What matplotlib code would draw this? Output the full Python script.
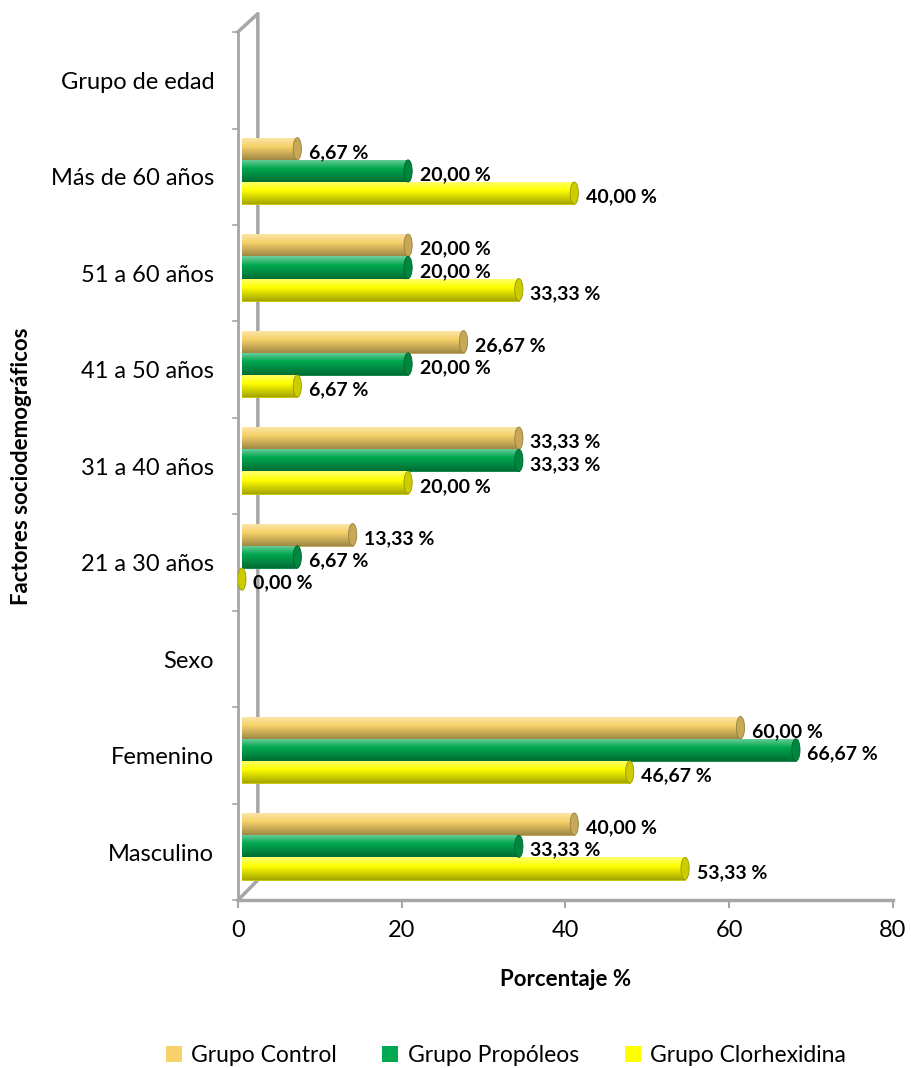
import numpy as np
import matplotlib
matplotlib.use("Agg")
import matplotlib.pyplot as plt
from matplotlib.patches import Ellipse, Patch
import matplotlib.colors as mcolors

categories = ["Grupo de edad", "Más de 60 años", "51 a 60 años", "41 a 50 años",
              "31 a 40 años", "21 a 30 años", "Sexo", "Femenino", "Masculino"]
control = [None, 6.67, 20.00, 26.67, 33.33, 13.33, None, 60.00, 40.00]
propoleos = [None, 20.00, 20.00, 20.00, 33.33, 6.67, None, 66.67, 33.33]
clorhexidina = [None, 40.00, 33.33, 6.67, 20.00, 0.00, None, 46.67, 53.33]
series_names = ["Grupo Control", "Grupo Propóleos", "Grupo Clorhexidina"]
colors = ["#F7D26A", "#00A84F", "#FFFF00"]
xticks = [0, 20, 40, 60, 80]

plt.rcParams['font.family'] = ['Lato', 'DejaVu Sans']
gray = "#A6A6A6"

fig = plt.figure(figsize=(9.11, 10.68), dpi=100)
ax = fig.add_axes([0.261, 0.157, 0.719, 0.813])

n = len(categories)
ypos = np.arange(n)
h = 0.23
offsets = [-h - 0.06, -0.06, h - 0.06]
x0 = 0.5  # 3d depth offset of bar bases


def shade(c, f):
    r, g, b = mcolors.to_rgb(c)
    if f >= 0:
        return (r + (1 - r) * f, g + (1 - g) * f, b + (1 - b) * f)
    return (r * (1 + f), g * (1 + f), b * (1 + f))


for vals, col, off in zip([control, propoleos, clorhexidina], colors, offsets):
    for i, v in enumerate(vals):
        if v is None:
            continue
        y = ypos[i] + off
        w = v * 1.015
        bars = ax.barh(y, w, height=h, left=x0, color=col, edgecolor=shade(col, -0.25), linewidth=0.6, zorder=3)
        # cylinder shading
        grad = np.linspace(0, 1, 50)
        prof = np.array([shade(col, 0.45 * (1 - t * 2.5)) if t < 0.4 else shade(col, -0.35 * (t - 0.4) / 0.6) for t in grad])
        img = ax.imshow(prof[:, None, :], extent=[x0, x0 + max(w, 0.01), y + h / 2, y - h / 2],
                        aspect='auto', zorder=3.5, interpolation='bilinear')
        img.set_clip_path(bars[0])
        ax.add_patch(Ellipse((x0 + w, y), 1.0, h, facecolor=shade(col, -0.2),
                             edgecolor=shade(col, -0.4), linewidth=0.6, zorder=4))
        ax.text(x0 + w + 1.4, y + 0.04, f"{v:.2f} %".replace(".", ","), va='center', ha='left',
                fontsize=14, fontweight='bold', color='black', zorder=5)

ax.set_xlim(0, 80)
ax.set_ylim(n - 0.5, -0.5)
ax.set_xticks(xticks)
ax.set_yticks(ypos)
ax.set_yticklabels(categories, fontsize=17)
ax.tick_params(axis='x', labelsize=17, length=6, color=gray, width=1.5, pad=8)
ax.tick_params(axis='y', length=0, pad=17)
for b in np.arange(n + 1) - 0.5:
    ax.plot([-0.6, 0], [b, b], color=gray, lw=1.2, clip_on=False, zorder=1)

for s in ['top', 'right']:
    ax.spines[s].set_visible(False)
ax.spines['left'].set_color(gray)
ax.spines['left'].set_linewidth(2)
ax.spines['bottom'].set_color(gray)
ax.spines['bottom'].set_linewidth(2.5)

# back wall (3d look)
ax.plot([0, 2.45, 2.45, 0], [n - 0.5, n - 0.71, -0.69, -0.5], color=gray, lw=2.5,
        clip_on=False, zorder=2)

ax.set_xlabel("Porcentaje %", fontsize=16, fontweight='bold', labelpad=20)
fig.text(0.024, 0.563, "Factores sociodemográficos", rotation=90, fontsize=16,
         fontweight='bold', ha='center', va='center')

handles = [Patch(facecolor=c, edgecolor='none') for c in colors]
fig.legend(handles, series_names, loc='center', bbox_to_anchor=(0.555, 0.012),
           ncol=3, frameon=False, fontsize=16.5, handlelength=0.7, handleheight=0.7,
           columnspacing=2.0, handletextpad=0.4)

fig.savefig("out.png", dpi=100)
